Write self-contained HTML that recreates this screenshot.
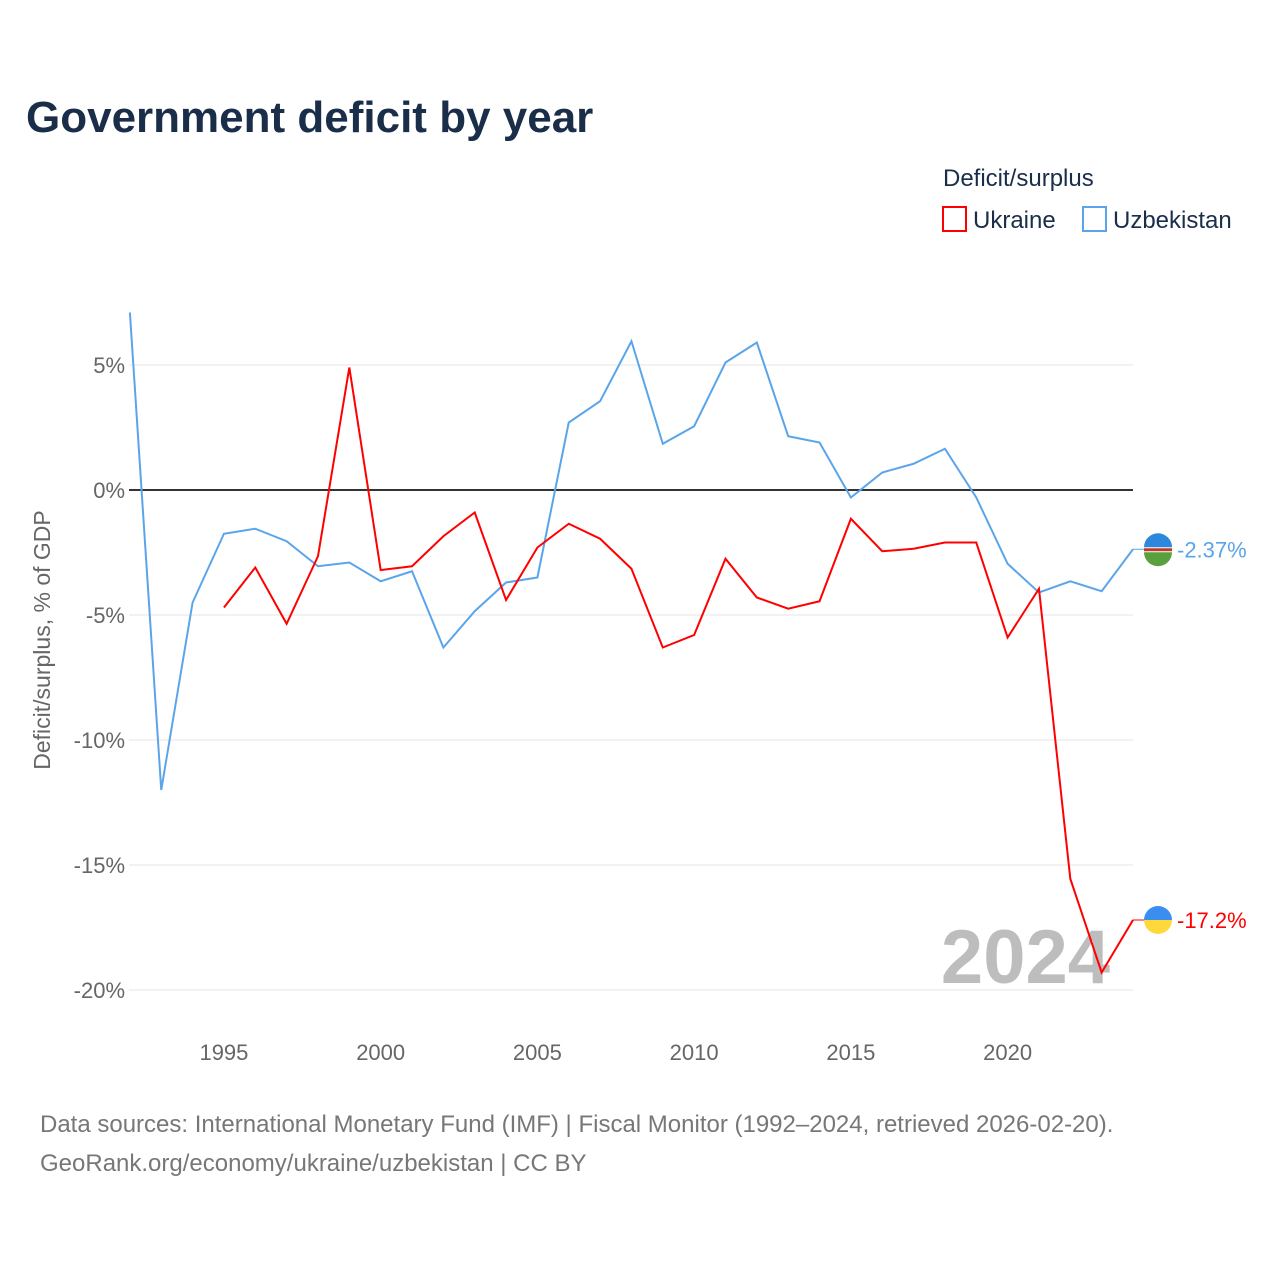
<!DOCTYPE html>
<html><head><meta charset="utf-8"><style>
body{margin:0;background:#fff;font-family:"Liberation Sans",sans-serif}
</style></head><body>
<svg width="1280" height="1280" xmlns="http://www.w3.org/2000/svg" style="font-family:'Liberation Sans',sans-serif">
<text x="26" y="132" font-size="44" font-weight="bold" fill="#1a2e4a">Government deficit by year</text>
<text x="943" y="186" font-size="24" fill="#1a2e4a">Deficit/surplus</text>
<g><rect x="943" y="207" width="23" height="24" fill="none" stroke="#ff0000" stroke-width="2"/><text x="973" y="228" font-size="24" fill="#1a2e4a">Ukraine</text></g>
<g><rect x="1083" y="207" width="23" height="24" fill="none" stroke="#5aa5ea" stroke-width="2"/><text x="1113" y="228" font-size="24" fill="#1a2e4a">Uzbekistan</text></g>
<g id="grid"></g>
<text x="1110" y="983" font-size="76" font-weight="bold" fill="#bdbdbd" text-anchor="end">2024</text>
<g id="series"></g>
<text transform="translate(50,640) rotate(-90)" font-size="23" fill="#666" text-anchor="middle">Deficit/surplus, % of GDP</text>
<text x="40" y="1132" font-size="24" fill="#777">Data sources: International Monetary Fund (IMF) | Fiscal Monitor (1992–2024, retrieved 2026-02-20).</text>
<text x="40" y="1171" font-size="24" fill="#777">GeoRank.org/economy/ukraine/uzbekistan | CC BY</text>
</svg>
<script>
const years=[1992,1993,1994,1995,1996,1997,1998,1999,2000,2001,2002,2003,2004,2005,2006,2007,2008,2009,2010,2011,2012,2013,2014,2015,2016,2017,2018,2019,2020,2021,2022,2023,2024];
const uzbekistan=[7.1,-12.0,-4.5,-1.75,-1.55,-2.05,-3.05,-2.9,-3.65,-3.25,-6.3,-4.85,-3.7,-3.5,2.7,3.55,5.95,1.85,2.55,5.1,5.9,2.15,1.9,-0.3,0.7,1.05,1.65,-0.3,-2.95,-4.1,-3.65,-4.05,-2.37];
const ukraine=[null,null,null,-4.7,-3.1,-5.35,-2.65,4.9,-3.2,-3.05,-1.85,-0.9,-4.4,-2.3,-1.35,-1.95,-3.15,-6.3,-5.8,-2.75,-4.3,-4.75,-4.45,-1.15,-2.45,-2.35,-2.1,-2.1,-5.9,-3.95,-15.55,-19.3,-17.2];
const yTicks=[5,0,-5,-10,-15,-20];
const xTicks=[1995,2000,2005,2010,2015,2020];
const NS="http://www.w3.org/2000/svg";
const x=v=>129.9+(v-1992)*(1133-129.9)/32;
const y=v=>490-v*25;
function mk(t,a,p){const e=document.createElementNS(NS,t);for(const k in a)e.setAttribute(k,a[k]);p.appendChild(e);return e;}
const g=document.getElementById('grid'),s=document.getElementById('series');
yTicks.forEach(t=>{
 const l=mk('line',{x1:129,x2:1133,y1:y(t),y2:y(t),stroke:t===0?'#333':'#e6e6e6','stroke-width':t===0?2:1},g);
 
 
 const tx=mk('text',{x:125,y:y(t)+8,'font-size':22,fill:'#666','text-anchor':'end'},g);tx.textContent=t+'%';
 
 
});
xTicks.forEach(t=>{
 const tx=mk('text',{x:x(t),y:1060,'font-size':22,fill:'#666','text-anchor':'middle'},g);tx.textContent=t;
 
 
});
function line(vals,col,name){
 let d='';vals.forEach((v,i)=>{if(v===null)return;d+=(d?'L':'M')+x(years[i])+','+y(v);});
 const p=mk('path',{d:d,fill:'none',stroke:col,'stroke-width':2},s);
 
 
 const last=vals[vals.length-1],ly=y(last);
 mk('line',{x1:1133,x2:1150,y1:ly,y2:ly,stroke:col,'stroke-width':1},s);
 const tx=mk('text',{x:1177,y:ly+8,'font-size':22,fill:col},s);tx.textContent=last+'%';
 
 
 return ly;
}
const uy=line(uzbekistan,'#5aa5ea','uzbekistan');
const ky=line(ukraine,'#ff0000','ukraine');
// flags
let f=mk('g',{},s);
mk('circle',{cx:1158,cy:uy,r:14,fill:'#fff'},f);
mk('path',{d:`M1144,${uy-2}A14,14 0 0 1 1172,${uy-2}Z`,fill:'#2d88dd'},f);
mk('path',{d:`M1144,${uy+3}A14,14 0 0 0 1172,${uy+3}Z`,fill:'#5aa03c'},f);
mk('rect',{x:1144,y:uy-1,width:28,height:3,fill:'#c0392b'},f);
f=mk('g',{},s);
mk('path',{d:`M1144,${ky}A14,14 0 0 1 1172,${ky}Z`,fill:'#3b8ef0'},f);
mk('path',{d:`M1144,${ky}A14,14 0 0 0 1172,${ky}Z`,fill:'#ffd93b'},f);
</script>
</body></html>
